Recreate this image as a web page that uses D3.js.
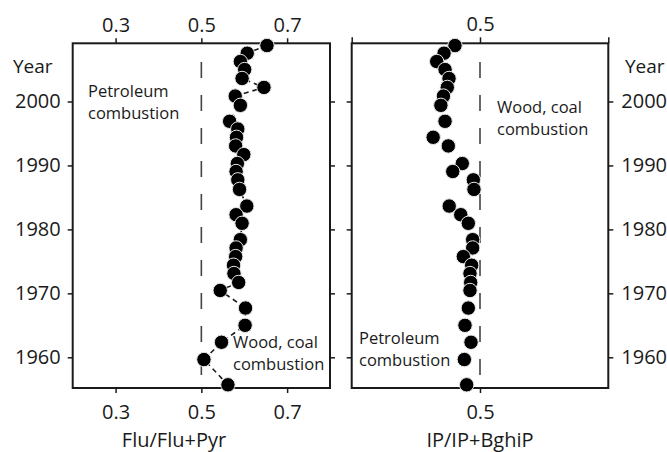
<!DOCTYPE html>
<html>
<head>
<meta charset="utf-8">
<script src="https://cdn.jsdelivr.net/npm/d3@7"></script>
<style>
  body { margin: 0; background: #fff; }
  text { font-family: "Open Sans", sans-serif; fill: #1a1a1a; }
</style>
</head>
<body>
<div id="chart"></div>
<script>
// sample years (shared by both panels)
const years = [2008.75, 2007.55, 2006.25, 2005.0, 2003.6, 2002.2, 2000.85, 1999.4, 1996.9, 1995.7,
  1994.4, 1993.05, 1991.7, 1990.3, 1989.05, 1987.75, 1986.25, 1983.65, 1982.3, 1980.95,
  1978.4, 1977.1, 1975.75, 1974.4, 1973.1, 1971.7, 1970.45, 1967.7, 1965.0, 1962.35, 1959.65, 1955.7];

// Flu/Flu+Pyr
const fluRatio = [0.653, 0.607, 0.591, 0.601, 0.595, 0.646, 0.579, 0.591, 0.566, 0.585,
  0.582, 0.580, 0.599, 0.584, 0.581, 0.585, 0.589, 0.606, 0.581, 0.595,
  0.591, 0.581, 0.580, 0.575, 0.576, 0.587, 0.544, 0.603, 0.602, 0.547, 0.506, 0.562];

// IP/IP+BghiP (null = no sample)
const ipRatio = [0.461, 0.444, 0.4325, 0.4455, 0.4517, 0.449, 0.443, 0.439, 0.4455, null,
  0.427, 0.4506, null, 0.4724, 0.4575, 0.4896, 0.4906, 0.452, 0.470, 0.4818,
  0.4886, 0.4886, 0.474, 0.487, 0.4844, 0.4855, 0.4844, 0.4818, 0.4766, 0.486, 0.4756, 0.4792];

const yearTicks = [1960, 1970, 1980, 1990, 2000];
const fluTicks = [0.3, 0.5, 0.7];
const ipTicks = [0.3, 0.5, 0.7];

const width = 667, height = 452;
const plotTop = 43.3, plotBottom = 388;

const svg = d3.select('#chart').append('svg')
  .attr('width', width)
  .attr('height', height);

const y = d3.scaleLinear()
  .domain([1955.2, 2009.1])
  .range([plotBottom, plotTop]);

const xL = d3.scaleLinear().domain([0.2, 0.8]).range([72.7, 330]);
const xR = d3.scaleLinear().domain([0.3, 0.7]).range([351.7, 608.3]);

function styleAxis(g) {
  g.select('.domain').remove();
  g.selectAll('.tick line').attr('stroke', '#1a1a1a').attr('stroke-width', 1.5);
  g.selectAll('.tick text').attr('font-size', '20px').attr('fill', '#1a1a1a')
    .attr('font-family', '"Open Sans", sans-serif');
}

// left panel axes
svg.append('g').attr('transform', `translate(0,${plotTop})`)
  .call(d3.axisTop(xL).tickValues(fluTicks).tickFormat(d3.format('.1f')).tickSize(5).tickPadding(6).tickSizeOuter(0))
  .call(styleAxis);
svg.append('g').attr('transform', `translate(0,${plotBottom})`)
  .call(d3.axisBottom(xL).tickValues(fluTicks).tickFormat(d3.format('.1f')).tickSize(5).tickPadding(12).tickSizeOuter(0))
  .call(styleAxis);
svg.append('g').attr('transform', `translate(${xL.range()[0]},0)`)
  .call(d3.axisLeft(y).tickValues(yearTicks).tickFormat(d3.format('d')).tickSize(5).tickPadding(7).tickSizeOuter(0))
  .call(styleAxis);
svg.append('g').attr('transform', `translate(${xL.range()[1]},0)`)
  .call(d3.axisRight(y).tickValues(yearTicks).tickFormat('').tickSize(5).tickSizeOuter(0))
  .call(styleAxis);

// right panel axes
svg.append('g').attr('transform', `translate(0,${plotTop})`)
  .call(d3.axisTop(xR).tickValues(ipTicks).tickFormat(d => d === 0.5 ? '0.5' : '').tickSize(6).tickPadding(6).tickSizeOuter(0))
  .call(styleAxis);
svg.append('g').attr('transform', `translate(0,${plotBottom})`)
  .call(d3.axisBottom(xR).tickValues([0.5]).tickFormat(d3.format('.1f')).tickSize(5).tickPadding(12).tickSizeOuter(0))
  .call(styleAxis);
svg.append('g').attr('transform', `translate(${xR.range()[0]},0)`)
  .call(d3.axisLeft(y).tickValues(yearTicks).tickFormat('').tickSize(5).tickSizeOuter(0))
  .call(styleAxis);
svg.append('g').attr('transform', `translate(${xR.range()[1]},0)`)
  .call(d3.axisRight(y).tickValues(yearTicks).tickFormat(d3.format('d')).tickSize(5).tickPadding(8).tickSizeOuter(0))
  .call(styleAxis);

// frames
[xL, xR].forEach(x => {
  svg.append('rect')
    .attr('x', x.range()[0]).attr('y', plotTop)
    .attr('width', x.range()[1] - x.range()[0]).attr('height', plotBottom - plotTop)
    .attr('fill', 'none').attr('stroke', '#1a1a1a').attr('stroke-width', 2);
});

// 0.5 reference lines
[xL, xR].forEach(x => {
  svg.append('line')
    .attr('x1', x(0.5)).attr('x2', x(0.5))
    .attr('y1', 62).attr('y2', plotBottom + 4)
    .attr('stroke', '#444').attr('stroke-width', 1.6)
    .attr('stroke-dasharray', '16,17');
});

// connecting line, left panel
const pts = years.map((yr, i) => ({ year: yr, flu: fluRatio[i], ip: ipRatio[i] }));

svg.append('path')
  .datum(pts)
  .attr('fill', 'none')
  .attr('stroke', '#1a1a1a')
  .attr('stroke-width', 1.6)
  .attr('stroke-dasharray', '5,4')
  .attr('d', d3.line().x(d => xL(d.flu)).y(d => y(d.year)));

svg.append('g')
  .selectAll('circle')
  .data(pts)
  .join('circle')
    .attr('cx', d => xL(d.flu))
    .attr('cy', d => y(d.year))
    .attr('r', 7.2)
    .attr('fill', '#000')
    .attr('stroke', '#e8e8e8')
    .attr('stroke-width', 1);

svg.append('g')
  .selectAll('circle')
  .data(pts.filter(d => d.ip != null))
  .join('circle')
    .attr('cx', d => xR(d.ip))
    .attr('cy', d => y(d.year))
    .attr('r', 7.2)
    .attr('fill', '#000')
    .attr('stroke', '#e8e8e8')
    .attr('stroke-width', 1);

// labels
function label2(x, y0, lines) {
  const t = svg.append('text').attr('font-size', '16.5px');
  lines.forEach((s, i) => t.append('tspan').attr('x', x).attr('y', y0 + i * 22).text(s));
}
label2(88, 96.5, ['Petroleum', 'combustion']);
label2(233, 348, ['Wood, coal', 'combustion']);
label2(497, 113, ['Wood, coal', 'combustion']);
label2(359, 344, ['Petroleum', 'combustion']);

svg.append('text').attr('x', 13).attr('y', 73).attr('font-size', '19px').text('Year');
svg.append('text').attr('x', 625).attr('y', 73).attr('font-size', '19px').text('Year');

svg.append('text').attr('x', 174).attr('y', 447).attr('text-anchor', 'middle')
  .attr('font-size', '20px').text('Flu/Flu+Pyr');
svg.append('text').attr('x', xR(0.5)).attr('y', 447).attr('text-anchor', 'middle')
  .attr('font-size', '20px').text('IP/IP+BghiP');
</script>
</body>
</html>
